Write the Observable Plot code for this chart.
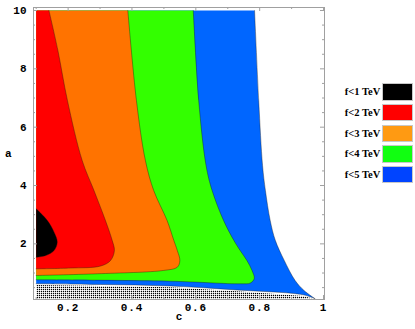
<!DOCTYPE html>
<html><head><meta charset="utf-8">
<script src="https://cdn.jsdelivr.net/npm/d3@7"></script>
<script src="https://cdn.jsdelivr.net/npm/@observablehq/plot@0.6"></script>
<style>
body{margin:0;background:#fff;}
#wrap{position:relative;width:415px;height:329px;overflow:hidden;}
.lbox{position:absolute;box-sizing:border-box;border:1px solid #c8c8c8;}
.ltxt{position:absolute;text-align:right;font:bold 10.5px "Liberation Serif",serif;color:#000;white-space:nowrap;}
g[aria-label="x-axis tick label"] text{letter-spacing:0.8px;}
</style></head><body>
<div id="wrap"></div>
<script>
// ---- data (c, a) ----
const legendLabels = ["f<1 TeV", "f<2 TeV", "f<3 TeV", "f<4 TeV", "f<5 TeV"];
const legendColors = ["#000000", "#ff0000", "#ff9a12", "#11ff11", "#0044ff"];
const regionColors = ["#000000", "#ff0000", "#ff7300", "#33ff00", "#0066ff"];

// f<5 TeV (blue): boundary from top edge down to tip, then back along the bottom to c=0.1
const f5C = [0.784, 0.797, 0.809, 0.818, 0.833, 0.849, 0.877, 0.911, 0.939, 0.974, 0.936, 0.729, 0.521, 0.302, 0.1];
const f5A = [10, 6.91, 4.69, 3.83, 2.80, 2.12, 1.43, 0.744, 0.401, 0.116, 0.254, 0.418, 0.555, 0.607, 0.634];
const f5Tip = 9;
// f<4 TeV (green)
const f4C = [0.592, 0.609, 0.632, 0.651, 0.687, 0.719, 0.739, 0.760, 0.776, 0.783, 0.771, 0.739, 0.521, 0.1];
const f4A = [10, 6.91, 4.69, 3.83, 2.80, 2.12, 1.77, 1.43, 1.09, 0.81, 0.658, 0.631, 0.720, 0.768];
// f<3 TeV (orange)
const f3C = [0.387, 0.414, 0.442, 0.468, 0.510, 0.531, 0.542, 0.550, 0.542, 0.500, 0.291, 0.1];
const f3A = [10, 6.91, 4.86, 3.83, 2.80, 2.12, 1.77, 1.43, 1.20, 1.09, 0.974, 0.915];
// f<2 TeV (red)
const f2C = [0.140, 0.168, 0.198, 0.244, 0.281, 0.317, 0.338, 0.345, 0.333, 0.302, 0.208, 0.1];
const f2A = [10, 8.63, 6.91, 4.86, 3.83, 2.80, 2.12, 1.77, 1.43, 1.24, 1.17, 1.145];
// f<1 TeV (black), closed along c=0.1
const f1C = [0.1, 0.135, 0.156, 0.166, 0.156, 0.130, 0.1];
const f1A = [3.20, 2.80, 2.40, 2.06, 1.77, 1.60, 1.54];
// excluded (dotted) region: upper edge
const exC = [0.1, 0.302, 0.521, 0.729, 0.936, 0.974];
const exA = [0.590, 0.555, 0.514, 0.377, 0.212, 0.1];

const cMin = 0.1, aMax = 10, aMin = 0.1;
const xMajorTicks = [0.2, 0.4, 0.6, 0.8, 1];
const xMinorTicks = [0.1, 0.3, 0.5, 0.7, 0.9];
const yMajorTicks = [2, 4, 6, 8, 10];
const yMinorTicks = [0.5, 1, 1.5, 2.5, 3, 3.5, 4.5, 5, 5.5, 6.5, 7, 7.5, 8.5, 9, 9.5];

// ---- helpers ----
function pts(cs, as, sharp) {
  const out = [];
  cs.forEach((c, i) => { out.push({c, a: as[i]}); if (i === sharp) out.push({c, a: as[i]}); });
  return out;
}
function topRegion(cs, as, sharp) {
  const p = pts(cs, as, sharp);
  return [{c: cMin, a: aMax}, p[0], ...p];
}
const regions = [
  {poly: topRegion(f5C, f5A, f5Tip), line: pts(f5C, f5A, f5Tip), color: regionColors[4]},
  {poly: topRegion(f4C, f4A), line: pts(f4C, f4A), color: regionColors[3]},
  {poly: topRegion(f3C, f3A), line: pts(f3C, f3A), color: regionColors[2]},
  {poly: topRegion(f2C, f2A), line: pts(f2C, f2A), color: regionColors[1]},
  {poly: pts(f1C, f1A), line: pts(f1C, f1A), color: regionColors[0]}
];
const excluded = [...pts(exC, exA), {c: cMin, a: aMin}];

const marks = [];
for (const r of regions) {
  marks.push(Plot.line(r.poly, {x: "c", y: "a", fill: r.color, stroke: "none", curve: "catmull-rom"}));
}
marks.push(Plot.line(excluded, {x: "c", y: "a", fill: "url(#dots)", stroke: "none"}));
for (const r of regions) {
  marks.push(Plot.line(r.line, {x: "c", y: "a", stroke: "#111", strokeOpacity: 0.6, strokeWidth: 0.6, curve: "catmull-rom"}));
}
const tickColor = "#a0a0a0";
marks.push(
  Plot.frame({stroke: tickColor}),
  Plot.ruleX(xMajorTicks, {x: d => d, insetTop: 288, stroke: tickColor}),
  Plot.ruleX(xMajorTicks, {x: d => d, insetBottom: 288, stroke: tickColor}),
  Plot.ruleX(xMinorTicks, {x: d => d, insetTop: 290, stroke: tickColor}),
  Plot.ruleX(xMinorTicks, {x: d => d, insetBottom: 290, stroke: tickColor}),
  Plot.ruleY(yMajorTicks, {y: d => d, insetRight: 287, stroke: tickColor}),
  Plot.ruleY(yMajorTicks, {y: d => d, insetLeft: 287, stroke: tickColor}),
  Plot.ruleY(yMinorTicks, {y: d => d, insetRight: 289, stroke: tickColor}),
  Plot.ruleY(yMinorTicks, {y: d => d, insetLeft: 289, stroke: tickColor}),
  Plot.axisX(xMajorTicks, {tickSize: 0, tickPadding: 4, tickFormat: d => d === 1 ? "1" : d.toFixed(1), label: null}),
  Plot.axisY(yMajorTicks, {tickSize: 0, tickPadding: 7, label: null}),
  Plot.text(["c"], {frameAnchor: "bottom", dy: 20, text: d => d}),
  Plot.text(["a"], {frameAnchor: "left", dx: -28.5, text: d => d})
);

const chart = Plot.plot({
  width: 415, height: 329,
  marginLeft: 33, marginRight: 91, marginTop: 7, marginBottom: 30,
  x: {domain: [0.0916, 1.003]},
  y: {domain: [0.0925, 10.103]},
  style: {background: "white", fontFamily: "'Liberation Mono', monospace", fontWeight: "bold", fontSize: "11px", color: "#000"},
  marks
});

// dotted fill pattern (offset by 0.5 to undo Plot's half-pixel translate)
const ns = "http://www.w3.org/2000/svg";
const defs = document.createElementNS(ns, "defs");
defs.innerHTML = '<pattern id="dots" patternUnits="userSpaceOnUse" x="0.5" y="0.5" width="2" height="2"><rect x="0" y="0" width="2" height="2" fill="#fff"/><rect x="0" y="0" width="1" height="1" fill="#000" shape-rendering="crispEdges"/><rect x="1" y="0" width="1" height="1" fill="#ccc" shape-rendering="crispEdges"/><rect x="0" y="1" width="1" height="1" fill="#ccc" shape-rendering="crispEdges"/></pattern>';
chart.insertBefore(defs, chart.firstChild);

const wrap = document.getElementById("wrap");
wrap.appendChild(chart);

// legend
const legTop = 83.3, legStep = 20.6, boxH = 17.6;
legendLabels.forEach((lab, i) => {
  const top = legTop + i * legStep;
  const box = document.createElement("div");
  box.className = "lbox";
  Object.assign(box.style, {left: "381.5px", top: top + "px", width: "31.6px", height: boxH + "px", background: legendColors[i]});
  wrap.appendChild(box);
  const t = document.createElement("div");
  t.className = "ltxt";
  t.textContent = lab;
  Object.assign(t.style, {right: (415 - 380.3) + "px", top: top + "px", lineHeight: boxH + "px"});
  wrap.appendChild(t);
});
</script>
</body></html>
